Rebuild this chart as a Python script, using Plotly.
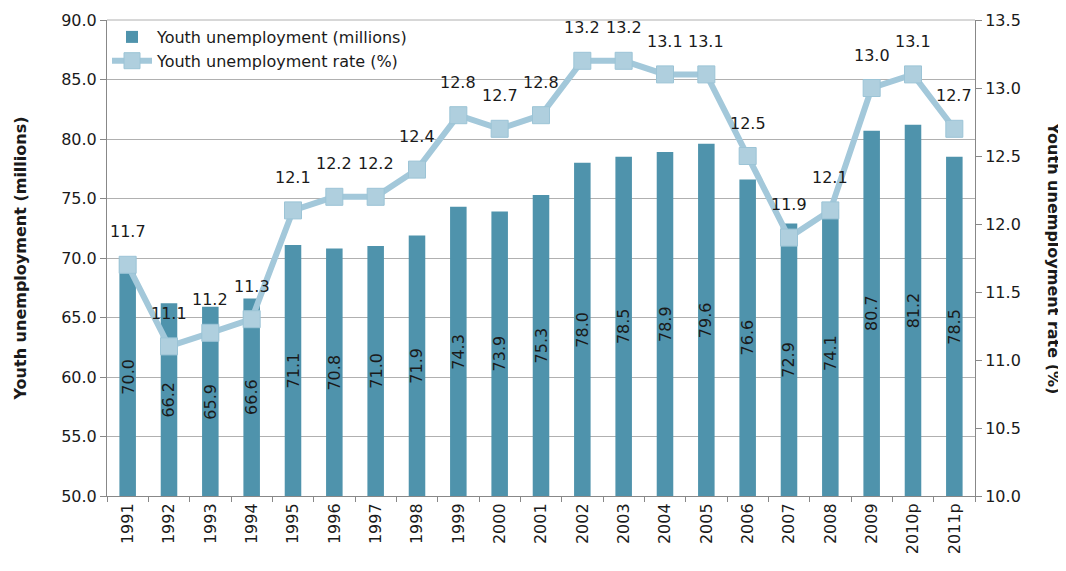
import plotly.graph_objects as go

years = ["1991", "1992", "1993", "1994", "1995", "1996", "1997", "1998", "1999", "2000",
         "2001", "2002", "2003", "2004", "2005", "2006", "2007", "2008", "2009", "2010p", "2011p"]
youth_unemp = [70.0, 66.2, 65.9, 66.6, 71.1, 70.8, 71.0, 71.9, 74.3, 73.9,
               75.3, 78.0, 78.5, 78.9, 79.6, 76.6, 72.9, 74.1, 80.7, 81.2, 78.5]
youth_rate = [11.7, 11.1, 11.2, 11.3, 12.1, 12.2, 12.2, 12.4, 12.8, 12.7,
              12.8, 13.2, 13.2, 13.1, 13.1, 12.5, 11.9, 12.1, 13.0, 13.1, 12.7]

y_left_min, y_left_max = 50, 90
y_right_min, y_right_max = 10, 13.5

bar_color = "#4F93AC"
line_color = "#A3C8DA"
font_family = "DejaVu Sans, Verdana, sans-serif"
text_color = "#1a1a1a"

fig = go.Figure()
fig.add_trace(go.Bar(
    x=years, y=youth_unemp, name="Youth unemployment (millions)",
    marker=dict(color=bar_color, line=dict(width=0)),
    width=0.4,
))
fig.add_trace(go.Scatter(
    x=years, y=youth_rate, name="Youth unemployment rate (%)", yaxis="y2",
    mode="lines+markers",
    line=dict(color=line_color, width=6),
    marker=dict(symbol="square", size=17, color="#AFCFDE", line=dict(color="#9CC4D6", width=1)),
    cliponaxis=False,
))

annotations = []
# bar value labels, rotated, centred in each bar (x given as category index)
for i, v in enumerate(youth_unemp):
    annotations.append(dict(
        x=i, y=(y_left_min + v) / 2, xref="x", yref="y", text=f"{v:.1f}",
        textangle=-90, showarrow=False, font=dict(size=16, color=text_color),
    ))
# line value labels above markers
for i, v in enumerate(youth_rate):
    annotations.append(dict(
        x=i, y=v, xref="x", yref="y2", text=f"{v:.1f}", yshift=33,
        showarrow=False, font=dict(size=16, color=text_color),
    ))
annotations.append(dict(
    text="<b>Youth unemployment rate (%)</b>", textangle=90,
    xref="paper", yref="paper", x=1.0, y=0.5, xanchor="center", yanchor="middle",
    xshift=79, showarrow=False, font=dict(size=16, color=text_color)))

fig.update_layout(
    width=1058, height=563,
    margin=dict(l=99, r=91, t=12, b=75),
    paper_bgcolor="white", plot_bgcolor="white",
    font=dict(family=font_family, size=16, color=text_color),
    showlegend=True,
    legend=dict(x=0.0, y=1.0, xanchor="left", yanchor="top", bgcolor="rgba(255,255,255,0)",
                font=dict(size=16), tracegroupgap=0, itemwidth=40),
    xaxis=dict(type="category", range=[-0.5, len(years) - 0.5], tickangle=-90,
               tickson="boundaries", ticks="outside", automargin=False,
               ticklen=5, tickcolor="#888", showline=True, linecolor="#888",
               showgrid=False, tickfont=dict(size=16)),
    yaxis=dict(range=[y_left_min, y_left_max], dtick=5, tickformat=".1f", showgrid=True,
               gridcolor="#b0b0b0", showline=True, linecolor="#888", ticks="outside",
               tickcolor="#888", ticklen=6, tickfont=dict(size=16), automargin=False,
               title=dict(text="<b>Youth unemployment (millions)</b>", font=dict(size=16), standoff=30)),
    yaxis2=dict(range=[y_right_min, y_right_max], dtick=0.5, tickformat=".1f", overlaying="y",
                side="right", showgrid=False, showline=True, linecolor="#888", ticks="outside",
                tickcolor="#888", ticklen=6, tickfont=dict(size=16), zeroline=False,
                automargin=False),
    annotations=annotations,
)
fig.add_shape(type="line", xref="paper", yref="paper", x0=0, x1=1, y0=1, y1=1,
              line=dict(color="#b0b0b0", width=1))

fig.write_html("out.html")
